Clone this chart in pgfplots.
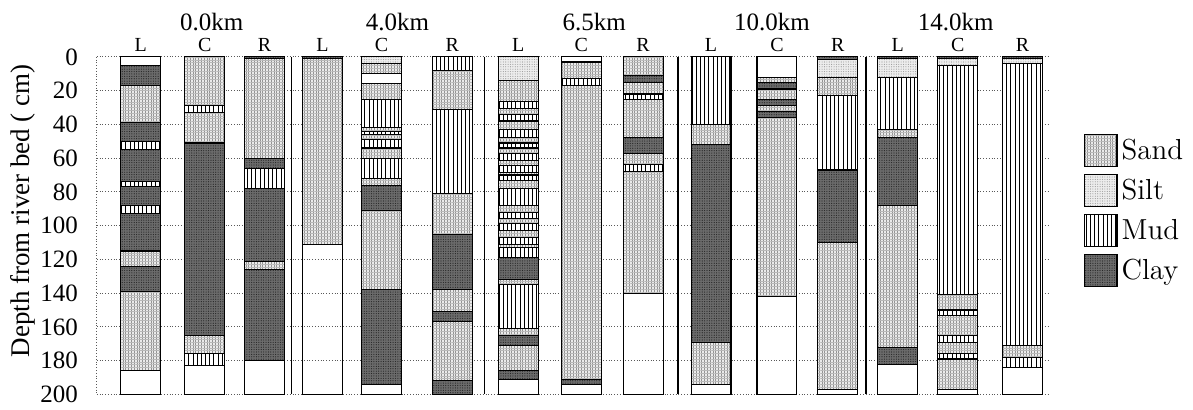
\documentclass[border=0pt]{standalone}
\usepackage{pgfplots}
\pgfplotsset{compat=1.18}
\usepackage{fontspec}
\setmainfont{Liberation Serif}
\usetikzlibrary{patterns,patterns.meta}

\tikzset{
 sand/.style={draw=black, line width=0.55pt, fill=black!8,
   postaction={pattern={Lines[angle=90,distance=1.4pt,line width=0.4pt]}, pattern color=black!42},
   postaction={pattern={Lines[angle=0,distance=1.4pt,line width=0.3pt]}, pattern color=black!28}},
 silt/.style={draw=black, line width=0.55pt, fill=black!7,
   postaction={pattern={Dots[distance=1.2pt,radius=0.28pt]}, pattern color=black!40}},
 mud/.style={draw=black, line width=0.55pt, fill=white,
   postaction={pattern={Lines[angle=90,distance=2.1pt,line width=0.42pt]}, pattern color=black}},
 clay/.style={draw=black, line width=0.55pt, fill=black!58,
   postaction={pattern={Dots[distance=1.2pt,radius=0.3pt]}, pattern color=black!85}},
 blank/.style={draw=black, line width=0.55pt},
}

\newcommand\setcol[1]{\pgfmathsetmacro\colL{#1}\pgfmathsetmacro\colR{#1+40}}
\newcommand\lay[3]{\edef\tmp{\noexpand\addplot[#3,forget plot] coordinates {(\colL,#1) (\colR,#1) (\colR,#2) (\colL,#2)} -- cycle;}\tmp}

\begin{document}
\begin{tikzpicture}
\begin{axis}[
  scale only axis, width=476.5pt, height=169pt,
  xmin=97, xmax=1050, ymin=0, ymax=200, y dir=reverse,
  ytick={0,20,...,200}, xtick={97}, xticklabels={},
  ymajorgrids, xmajorgrids,
  grid style={densely dotted, black!65, line width=0.5pt},
  axis line style={draw=none}, major tick length=0pt,
  clip=false, no markers,
  /pgf/number format/assume math mode=true,
  yticklabel style={font=\fontsize{12.5}{15}\selectfont, anchor=east, xshift=-6pt},
  ylabel={Depth from river bed ( cm)},
  ylabel style={font=\fontsize{13.5}{16}\selectfont, at={(axis description cs:-0.0775,0.544)}, anchor=center},
  legend style={at={(axis description cs:1.03,0.785)}, anchor=north west, draw=none, fill=none,
     font=\fontfamily{lmr}\selectfont\fontsize{14.5}{17}\selectfont, row sep=3.5pt,
     /tikz/every even column/.append style={column sep=4pt}},
  legend cell align=left,
  legend image code/.code={\draw[#1] (0pt,-8pt) rectangle (16.5pt,8pt);},
]
\path (axis description cs:-0.1018,-0.0178) rectangle (axis description cs:1.150,1.1686);

% separators between stations
\addplot[black, line width=0.7pt, forget plot] coordinates {(292,0) (292,200)};
\addplot[black, line width=0.7pt, forget plot] coordinates {(485,0) (485,200)};
\addplot[black, line width=0.7pt, forget plot] coordinates {(679,0) (679,200)};
\addplot[black, line width=0.7pt, forget plot] coordinates {(867,0) (867,200)};

% ---- 0.0km L
\setcol{121}
\lay{0}{5}{blank}\lay{5}{17}{clay}\lay{17}{39}{sand}\lay{39}{50}{clay}\lay{50}{55}{mud}
\lay{55}{74}{clay}\lay{74}{77}{mud}\lay{77}{88}{clay}\lay{88}{93}{mud}\lay{93}{115}{clay}
\lay{115}{124}{sand}\lay{124}{139}{clay}\lay{139}{186}{sand}\lay{186}{200}{blank}
% ---- 0.0km C
\setcol{185}
\lay{0}{29}{sand}\lay{29}{33}{mud}\lay{33}{51}{sand}\lay{51}{165}{clay}\lay{165}{176}{sand}
\lay{176}{183}{mud}\lay{183}{200}{blank}
% ---- 0.0km R
\setcol{245}
\lay{0}{1}{clay}\lay{1}{60}{sand}\lay{60}{66}{clay}\lay{66}{78}{mud}\lay{78}{121}{clay}
\lay{121}{126}{sand}\lay{126}{180}{clay}\lay{180}{200}{blank}
% ---- 4.0km L
\setcol{303}
\lay{0}{1}{clay}\lay{1}{111}{sand}\lay{111}{200}{blank}
% ---- 4.0km C
\setcol{362}
\lay{0}{4}{silt}\lay{4}{10}{sand}\lay{10}{16}{blank}\lay{16}{25}{sand}\lay{25}{42}{mud}
\lay{42}{44}{sand}\lay{44}{46}{mud}\lay{46}{49}{sand}\lay{49}{54}{mud}\lay{54}{60}{sand}
\lay{60}{72}{mud}\lay{72}{76}{sand}\lay{76}{91}{clay}\lay{91}{138}{sand}\lay{138}{194}{clay}
\lay{194}{200}{blank}
% ---- 4.0km R
\setcol{433}
\lay{0}{8}{mud}\lay{8}{31}{sand}\lay{31}{81}{mud}\lay{81}{105}{sand}\lay{105}{138}{clay}
\lay{138}{151}{sand}\lay{151}{157}{clay}\lay{157}{192}{sand}\lay{192}{200}{clay}
% ---- 6.5km L
\setcol{499}
\lay{0}{14}{silt}\lay{14}{26.5}{sand}\lay{26.5}{30.5}{mud}\lay{30.5}{34}{sand}\lay{34}{38}{mud}
\lay{38}{43}{sand}\lay{43}{48}{mud}\lay{48}{51}{sand}\lay{51}{54}{mud}\lay{54}{57}{sand}
\lay{57}{61.5}{mud}\lay{61.5}{64.5}{sand}\lay{64.5}{68.5}{mud}\lay{68.5}{70}{sand}\lay{70}{73.5}{mud}
\lay{73.5}{78}{sand}\lay{78}{88}{mud}\lay{88}{92}{sand}\lay{92}{96}{mud}\lay{96}{98.5}{sand}
\lay{98.5}{103}{mud}\lay{103}{107}{sand}\lay{107}{111}{mud}\lay{111}{113}{sand}\lay{113}{119}{mud}
\lay{119}{132}{clay}\lay{132}{135}{sand}\lay{135}{161}{mud}\lay{161}{165}{sand}\lay{165}{171}{clay}
\lay{171}{186}{sand}\lay{186}{191}{clay}\lay{191}{200}{blank}
% ---- 6.5km C
\setcol{562}
\lay{0}{3}{blank}\lay{3}{13}{sand}\lay{13}{17}{mud}\lay{17}{191}{sand}\lay{191}{194}{clay}
\lay{194}{200}{blank}
% ---- 6.5km R
\setcol{624}
\lay{0}{11}{sand}\lay{11}{15}{clay}\lay{15}{22}{sand}\lay{22}{25}{mud}\lay{25}{48}{sand}
\lay{48}{57}{clay}\lay{57}{64}{sand}\lay{64}{68}{mud}\lay{68}{140}{sand}\lay{140}{200}{blank}
% ---- 10.0km L
\setcol{692}
\lay{0}{40}{mud}\lay{40}{52}{sand}\lay{52}{169}{clay}\lay{169}{194}{sand}\lay{194}{200}{blank}
% ---- 10.0km C
\setcol{758}
\lay{0}{12}{blank}\lay{12}{15}{sand}\lay{15}{19}{clay}\lay{19}{25.5}{sand}\lay{25.5}{29}{clay}
\lay{29}{32.5}{sand}\lay{32.5}{36}{clay}\lay{36}{142}{sand}\lay{142}{200}{blank}
% ---- 10.0km R
\setcol{819}
\lay{0}{1.5}{clay}\lay{1.5}{12}{silt}\lay{12}{23}{sand}\lay{23}{67}{mud}\lay{67}{110}{clay}
\lay{110}{197}{sand}\lay{197}{200}{blank}
% ---- 14.0km L
\setcol{879}
\lay{0}{1}{clay}\lay{1}{12}{silt}\lay{12}{43}{mud}\lay{43}{48}{sand}\lay{48}{88}{clay}
\lay{88}{172}{sand}\lay{172}{182}{clay}\lay{182}{200}{blank}
% ---- 14.0km C
\setcol{939}
\lay{0}{1}{clay}\lay{1}{5}{silt}\lay{5}{141}{mud}\lay{141}{150}{sand}\lay{150}{153}{mud}
\lay{153}{165}{sand}\lay{165}{169}{mud}\lay{169}{176}{sand}\lay{176}{179}{mud}\lay{179}{197}{sand}
\lay{197}{200}{blank}
% ---- 14.0km R
\setcol{1004}
\lay{0}{1}{clay}\lay{1}{4}{silt}\lay{4}{171}{mud}\lay{171}{178}{sand}\lay{178}{184}{mud}
\lay{184}{200}{blank}

\addlegendimage{sand}\addlegendentry{Sand}
\addlegendimage{silt}\addlegendentry{Silt}
\addlegendimage{mud}\addlegendentry{Mud}
\addlegendimage{clay}\addlegendentry{Clay}

% station titles
\begin{scope}[every node/.style={font=\fontsize{12.5}{15}\selectfont}]
\node at (axis cs:212,-20.7) {0.0km};
\node at (axis cs:398,-20.7) {4.0km};
\node at (axis cs:595,-20.7) {6.5km};
\node at (axis cs:773,-20.7) {10.0km};
\node at (axis cs:957,-20.7) {14.0km};
\end{scope}
\begin{scope}[every node/.style={font=\fontsize{10}{12}\selectfont}]
\node at (axis cs:141,-7.1) {L};\node at (axis cs:205,-7.1) {C};\node at (axis cs:265,-7.1) {R};
\node at (axis cs:323,-7.1) {L};\node at (axis cs:382,-7.1) {C};\node at (axis cs:453,-7.1) {R};
\node at (axis cs:519,-7.1) {L};\node at (axis cs:582,-7.1) {C};\node at (axis cs:644,-7.1) {R};
\node at (axis cs:712,-7.1) {L};\node at (axis cs:778,-7.1) {C};\node at (axis cs:839,-7.1) {R};
\node at (axis cs:899,-7.1) {L};\node at (axis cs:959,-7.1) {C};\node at (axis cs:1024,-7.1) {R};
\end{scope}
\end{axis}
\end{tikzpicture}
\end{document}
